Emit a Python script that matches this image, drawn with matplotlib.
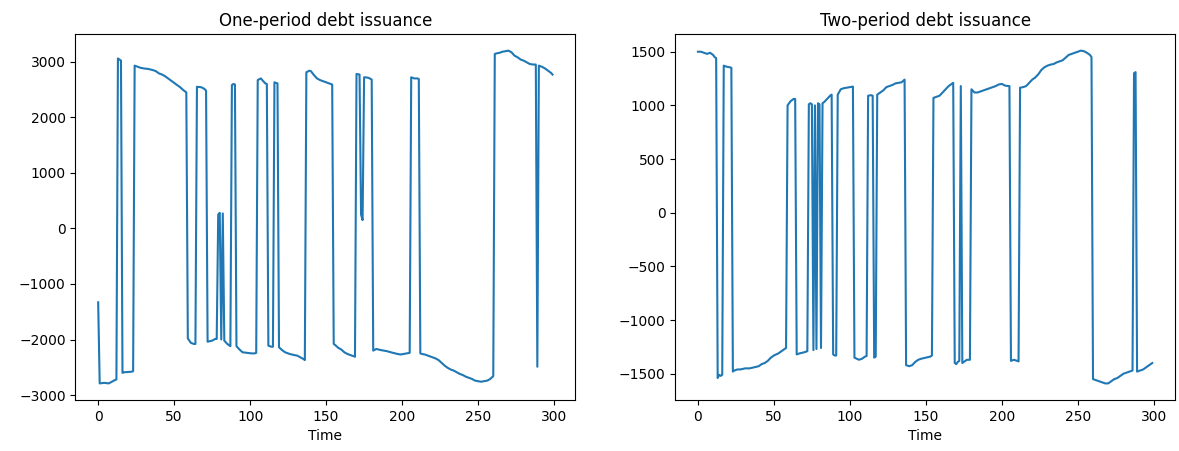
import matplotlib
matplotlib.use("Agg")
import matplotlib.pyplot as plt

# one-period debt: (time, value) vertices
t_one = [0, 1, 4, 7, 9, 11, 12, 13, 14, 15, 16, 17, 22, 23,
         24, 26, 28, 30, 33, 36, 38, 40, 42, 44, 46, 48, 50, 52, 54, 56, 58,
         59, 61, 63, 64, 65, 68, 70, 71, 72, 75, 77, 78, 79, 80, 81, 82, 83,
         84, 85, 86, 87, 88, 89, 90, 91, 93, 95, 98, 101, 103, 104,
         105, 107, 110, 111, 112, 113, 114, 115, 116, 117, 118, 119,
         121, 123, 126, 129, 131, 133, 135, 136,
         137, 139, 140, 142, 144, 146, 148, 150, 152, 154,
         155, 156, 158, 160, 162, 164, 166, 168, 169,
         170, 172, 173, 174, 175, 176, 178, 180,
         181, 183, 186, 190, 194, 197, 199, 201, 203, 205,
         206, 208, 210, 211, 212, 213, 215, 217, 220, 222, 224, 226, 228,
         230, 232, 234, 236, 238, 240, 242, 244, 246, 248, 250, 252, 254,
         256, 258, 260, 261, 262, 264, 266, 268, 270, 272, 274, 276, 278,
         280, 282, 284, 286, 288, 289, 290, 292, 294, 296, 298, 299]
v_one = [-1330, -2790, -2780, -2790, -2760, -2730, -2720, 3060, 3040, 3020, -2600, -2590, -2580, -2570,
         2930, 2910, 2890, 2880, 2870, 2850, 2830, 2790, 2770, 2740, 2700, 2660, 2620, 2580, 2540, 2490, 2450,
         -1980, -2060, -2080, -2080, 2550, 2540, 2510, 2480, -2040, -2020, -1990, -1990, 250, 280, -2000, 270, -2020,
         -2050, -2080, -2100, -2120, 2580, 2600, 2590, -2120, -2180, -2230, -2240, -2250, -2250, -2240,
         2670, 2700, 2610, 2600, -2110, -2120, -2130, -2130, 2630, 2620, 2610, -2140,
         -2190, -2230, -2260, -2280, -2290, -2320, -2350, -2370,
         2810, 2840, 2830, 2760, 2700, 2670, 2650, 2630, 2610, 2590,
         -2080, -2100, -2150, -2180, -2230, -2260, -2280, -2300, -2310,
         2780, 2770, 250, 150, 2720, 2720, 2710, 2680,
         -2200, -2170, -2190, -2210, -2240, -2260, -2270, -2260, -2250, -2240,
         2720, 2700, 2700, 2690, -2250, -2260, -2270, -2290, -2320, -2340, -2370, -2420, -2470,
         -2510, -2540, -2560, -2590, -2620, -2640, -2670, -2690, -2710, -2740, -2750, -2760, -2750,
         -2740, -2710, -2660, 3140, 3150, 3160, 3180, 3190, 3200, 3170, 3110, 3080, 3040,
         3020, 2990, 2960, 2950, 2950, -2490, 2930, 2910, 2880, 2840, 2800, 2770]

# two-period debt
t_two = [0, 2, 4, 6, 8, 10, 11, 12, 13, 14, 15, 16,
         17, 19, 21, 22, 23, 24, 26, 28, 31, 34, 37, 40, 42, 44, 46, 48, 50, 53, 55, 57, 58,
         59, 61, 63, 64, 65, 67, 70, 72, 73, 74, 75, 76, 77, 78, 79, 80, 81, 82, 83, 85, 87, 88,
         89, 90, 91, 92, 94, 96, 98, 100, 102, 103, 106, 108, 110, 111,
         112, 114, 115, 116, 117, 118, 120, 122, 124, 126, 128, 130, 132, 134, 136,
         137, 139, 141, 143, 145, 147, 150, 153, 154,
         155, 157, 159, 161, 163, 165, 167, 168, 169, 170, 171, 172, 173, 174, 175, 177, 179,
         180, 182, 184, 186, 188, 190, 192, 194, 196, 198, 200, 202, 204, 205,
         206, 208, 210, 211, 212, 214, 216, 218, 220, 222, 224, 226, 228, 230, 232, 234, 236,
         238, 240, 242, 244, 246, 248, 250, 252, 254, 256, 258, 259,
         260, 262, 264, 266, 268, 270, 272, 274, 276, 278, 280, 282, 284, 286,
         287, 288, 289, 291, 293, 295, 297, 299]
v_two = [1500, 1500, 1490, 1480, 1490, 1470, 1450, 1440, -1540, -1510, -1520, -1510,
         1370, 1360, 1355, 1350, -1480, -1470, -1460, -1460, -1450, -1450, -1440, -1430, -1410, -1400, -1380, -1350, -1330, -1310, -1290, -1270, -1260,
         1000, 1040, 1060, 1060, -1320, -1310, -1300, -1290, 1010, 1020, 1010, -1280, 1000, -1270, 1020, 1010, -1260, 1020, 1030, 1060, 1090, 1100,
         -1320, -1330, -1330, 1100, 1150, 1160, 1165, 1170, 1175, -1350, -1370, -1360, -1340, -1335,
         1090, 1095, 1090, -1350, -1340, 1100, 1120, 1140, 1170, 1180, 1190, 1205, 1210, 1215, 1240,
         -1420, -1430, -1420, -1390, -1370, -1360, -1350, -1340, -1330,
         1070, 1080, 1090, 1120, 1150, 1180, 1200, 1210, -1400, -1410, -1390, -1380, 1180, -1400, -1390, -1370, -1370,
         1150, 1120, 1120, 1130, 1140, 1150, 1160, 1170, 1180, 1195, 1200, 1185, 1180, 1180,
         -1380, -1370, -1380, -1385, 1165, 1170, 1180, 1210, 1240, 1260, 1290, 1330, 1355, 1370, 1380, 1385, 1400,
         1410, 1420, 1445, 1470, 1480, 1490, 1500, 1510, 1505, 1490, 1470, 1450,
         -1550, -1560, -1570, -1580, -1590, -1590, -1570, -1550, -1540, -1520, -1500, -1490, -1480, -1470,
         1300, 1310, -1480, -1470, -1460, -1440, -1420, -1400]

fig, axes = plt.subplots(1, 2, figsize=(11.79, 4.51), dpi=100)
fig.subplots_adjust(left=0.064, right=0.9966, bottom=0.113, top=0.9246, wspace=0.2)

axes[0].plot(t_one, v_one)
axes[0].set_title('One-period debt issuance')
axes[0].set_xlabel('Time')

axes[1].plot(t_two, v_two)
axes[1].set_title('Two-period debt issuance')
axes[1].set_xlabel('Time')

fig.savefig('out.png', dpi=100)
